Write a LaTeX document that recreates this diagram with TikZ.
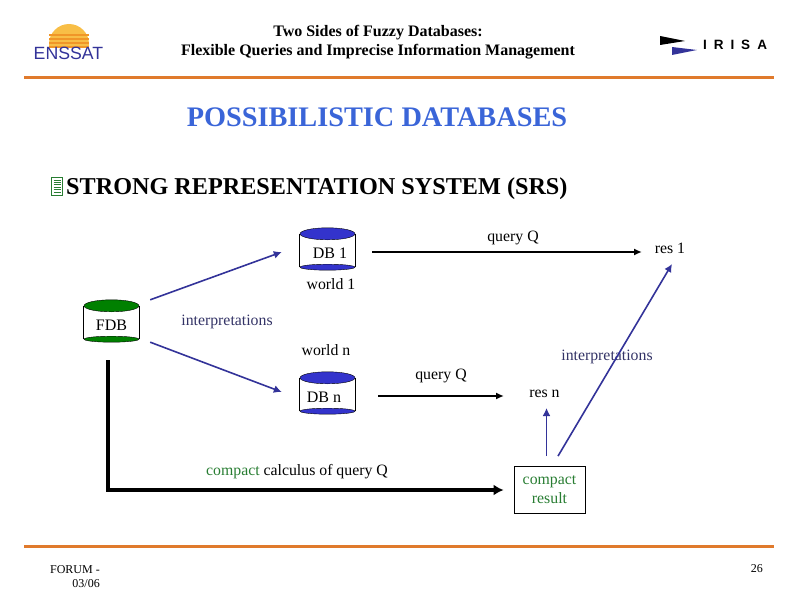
\documentclass[tikz,border=0pt]{standalone}
\usepackage{fontspec}
\setmainfont{Liberation Serif}
\newfontfamily\logofont{Liberation Sans}
\usepackage{xcolor}
\usetikzlibrary{positioning, arrows.meta}
\definecolor{slideorange}{RGB}{224, 122, 44}
\definecolor{slideblue}{RGB}{58, 101, 216}
\definecolor{arrowblue}{RGB}{51, 51, 153}
\definecolor{cylblue}{RGB}{51, 51, 204}
\definecolor{cylgreen}{RGB}{0, 128, 0}
\definecolor{interpblue}{RGB}{51, 51, 102}
\definecolor{compactgreen}{RGB}{40, 125, 50}
\definecolor{sunorange}{RGB}{240, 150, 40}
\definecolor{sunyellow}{RGB}{248, 190, 70}
\tikzset{
    dbnode/.style={minimum width=55pt, minimum height=42pt, inner sep=0pt, text height=21pt, text depth=2pt, font=\fontsize{16}{18}\selectfont},
    txt/.style={inner sep=0pt, font=\fontsize{15.8}{19}\selectfont, align=center},
    interp/.style={txt, text=interpblue},
    rulebar/.style={slideorange, line width=3pt},
    queryarrow/.style={-{Latex[length=8pt, width=7pt]}, line width=1.6pt},
    interparrow/.style={-{Latex[length=8pt, width=8pt]}, line width=1.6pt, arrowblue},
    calcarrow/.style={-{Latex[length=10pt, width=11pt]}, line width=3.6pt}
}
% cylinder round a named node
\newcommand{\dbcyl}[2]{
    \draw[thick] ([yshift=-6pt]#1.north west) -- ([yshift=3pt]#1.south west);
    \draw[thick] ([yshift=-6pt]#1.north east) -- ([yshift=3pt]#1.south east);
    \draw[fill=#2] ([yshift=-6pt]#1.north) ellipse (27.5pt and 6pt);
    \draw[fill=#2] ([yshift=3pt]#1.south) ellipse (27.5pt and 3pt);
}
\begin{document}
\begin{tikzpicture}[x=1pt, y=-1pt]
    \useasboundingbox (0,0) rectangle (801,591);

    % header
    \node[inner sep=0pt, align=center, font=\fontsize{16}{19}\selectfont\bfseries] (title) at (378,42)
      {Two Sides of Fuzzy Databases:\\Flexible Queries and Imprecise Information Management};
    \draw[rulebar] (24,78) -- (774,78);
    \draw[rulebar] (24,546.5) -- (774,546.5);

    % logos
    \begin{scope}
      \clip (49,24) rectangle (89,48);
      \fill[sunyellow] (69,44) circle (20);
      \foreach \y in {34,38,42,46} {
        \fill[sunorange] (49,\y) rectangle (89,\y+2.5);
      }
    \end{scope}
    \node[inner sep=0pt, text=arrowblue, font=\logofont\fontsize{17.7}{18}\selectfont] (enssat) at (68.5,53) {ENSSAT};
    \fill[black] (660,36) -- (685,41) -- (660,45) -- cycle;
    \fill[arrowblue] (672,47) -- (697,50) -- (672,55) -- cycle;
    \node[inner sep=0pt, font=\logofont\bfseries\fontsize{13.5}{14}\selectfont] (irisa) at (735,45) {I\hspace{7pt}R\hspace{7pt}I\hspace{7pt}S\hspace{7pt}A};

    % headings
    \node[inner sep=0pt, text=slideblue, font=\fontsize{28.3}{30}\selectfont\bfseries] (heading) at (377,117) {POSSIBILISTIC DATABASES};
    \node[inner sep=0pt, font=\fontsize{24.2}{26}\selectfont\bfseries, anchor=west] (srs) at (66,189) {STRONG REPRESENTATION SYSTEM (SRS)};
    \node[draw=compactgreen, fill=white, minimum width=11pt, minimum height=18pt, inner sep=0pt] (bullet) at (57,186) {};
    \foreach \y in {-6,-3.6,-1.2,1.2,3.6,6} {
      \draw[compactgreen, line width=0.9pt] ([xshift=-3.5pt, yshift=\y pt]bullet.center) -- ([xshift=3.5pt, yshift=\y pt]bullet.center);
    }

    % databases
    \node[dbnode] (fdb) at (111.5,321) {FDB};
    \node[dbnode] (db1) at (327.5,249) {\hspace*{5pt}DB 1};
    \node[dbnode] (dbn) at (327.5,393) {DB n\hspace*{7pt}};
    \dbcyl{fdb}{cylgreen}
    \dbcyl{db1}{cylblue}
    \dbcyl{dbn}{cylblue}

    % labels
    \node[txt] (world1) at (331,284) {world 1};
    \node[txt] (worldn) at (326,350) {world n};
    \node[interp] (interpleft) at (227,322) {interpretations};
    \node[interp] (interpright) at (607,357) {interpretations};
    \node[txt] (query1) at (513,238) {query Q};
    \node[txt] (queryn) at (441,376) {query Q};
    \node[txt] (res1) at (670,248) {res 1};
    \node[txt] (resn) at (544.5,394) {res n};
    \node[txt] (calculus) at (297,472) {\textcolor{compactgreen}{compact} calculus of query Q};
    \node[draw, thick, minimum width=71pt, minimum height=47pt, inner sep=0pt, text=compactgreen, font=\fontsize{15.8}{19}\selectfont, align=center] (compact) at (549.5,490) {\raisebox{-2pt}{compact}\\\raisebox{-2pt}{result}};

    % footer
    \node[inner sep=0pt, align=right, anchor=north east, font=\fontsize{12}{14.5}\selectfont] (forum) at (100,565) {FORUM -\\03/06};
    \node[inner sep=0pt, anchor=east, font=\fontsize{12}{14}\selectfont] (page) at (763,569) {26};

    % connectors
    \draw[interparrow] ([shift={(11,0)}]fdb.north east) -- ([shift={(-18,3)}]db1.west);
    \draw[interparrow] ([shift={(11,0)}]fdb.south east) -- ([shift={(-18,-1)}]dbn.west);
    \draw[queryarrow] ([xshift=17pt, yshift=-3pt]db1.east) -- ([shift={(-28,4)}]res1.center);
    \draw[queryarrow] ([xshift=23pt, yshift=-3pt]dbn.east) -- ([shift={(-40.5,2)}]resn.center);
    \draw[interparrow] ([shift={(-3,-10)}]compact.north) -- ([shift={(2,14)}]resn.center);
    \draw[interparrow] ([shift={(8.5,-10)}]compact.north) -- ([shift={(2,16)}]res1.center);
    \draw[calcarrow] ([yshift=-18pt, xshift=-3.5pt]fdb.south) -- ([xshift=-3.5pt]fdb.south |- compact.west) -- ([xshift=-10pt]compact.west);
\end{tikzpicture}
\end{document}
